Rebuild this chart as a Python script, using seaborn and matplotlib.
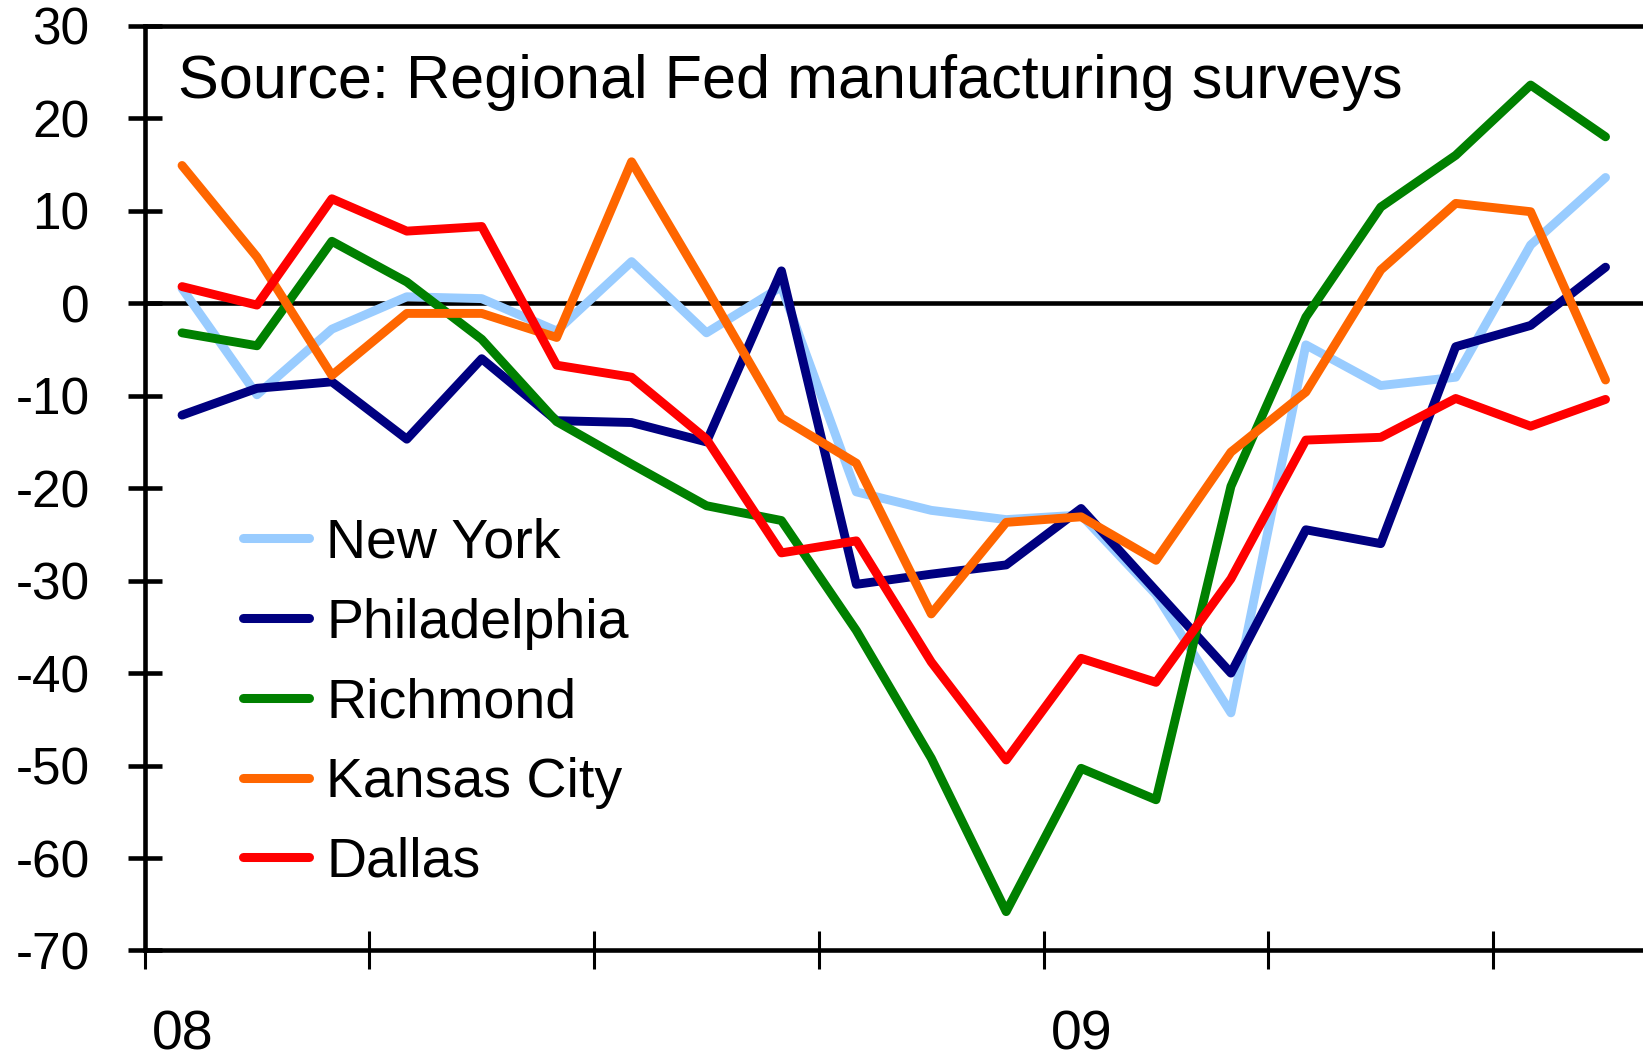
import matplotlib
matplotlib.use("Agg")
import matplotlib.pyplot as plt
import matplotlib.transforms as mtransforms
import seaborn as sns
import numpy as np
import pandas as pd

# monthly index readings, Jan 2008 - Aug 2009
months = pd.period_range("2008-01", "2009-08", freq="M").astype(str).tolist()

new_york = [1.6, -9.9, -2.8, 0.7, 0.5, -3.0, 4.5, -3.2, 1.8, -20.4,
            -22.4, -23.4, -22.9, -31.5, -44.3, -4.5, -8.9, -8.0, 6.3, 13.6]
philadelphia = [-12.1, -9.2, -8.5, -14.7, -6.0, -12.7, -12.9, -15.0, 3.5, -30.4,
                -29.3, -28.3, -22.2, -31.1, -40.0, -24.5, -26.0, -4.7, -2.4, 3.9]
richmond = [-3.2, -4.6, 6.7, 2.3, -3.9, -12.8, -17.4, -21.9, -23.5, -35.4,
            -49.2, -65.8, -50.3, -53.7, -19.8, -1.5, 10.4, 16.0, 23.6, 18.0]
kansas_city = [14.9, 5.0, -7.8, -1.1, -1.1, -3.7, 15.3, 1.6, -12.4, -17.3,
               -33.6, -23.7, -23.1, -27.8, -16.1, -9.6, 3.6, 10.8, 9.9, -8.3]
dallas = [1.8, -0.2, 11.3, 7.8, 8.3, -6.7, -8.0, -14.7, -27.0, -25.7,
          -38.8, -49.4, -38.4, -41.0, -29.8, -14.8, -14.5, -10.3, -13.3, -10.4]

regions = ["New York", "Philadelphia", "Richmond", "Kansas City", "Dallas"]
colors = ["#99CCFF", "#000080", "#008000", "#FF6600", "#FF0000"]
year_labels = ["08", "09"]

series = [new_york, philadelphia, richmond, kansas_city, dallas]
df = pd.concat([
    pd.DataFrame({"pos": np.arange(len(months)) + 0.5, "month": months,
                  "value": vals, "region": name})
    for name, vals in zip(regions, series)
], ignore_index=True)

sns.set_style("white")
plt.rcParams["font.family"] = ["Liberation Sans", "DejaVu Sans"]
plt.rcParams["text.color"] = "black"
plt.rcParams["axes.unicode_minus"] = False

fig = plt.figure(figsize=(16.43, 10.64), dpi=100)
ax = fig.add_axes([0.088, 0.1067, 0.912, 0.869])

sns.lineplot(data=df, x="pos", y="value", hue="region", hue_order=regions,
             palette=dict(zip(regions, colors)), linewidth=6.4, ax=ax,
             sort=False)

ax.axhline(0, color="black", linewidth=3.3, zorder=1)

ax.set_xlim(0, 20)
ax.set_ylim(-70, 30)
ax.set_yticks(np.arange(-70, 31, 10))
ax.set_xticks(np.arange(0, 19, 3))
ax.set_xticklabels([])
ax.set_xlabel("")
ax.set_ylabel("")

for side in ["left", "bottom", "top"]:
    ax.spines[side].set_visible(True)
    ax.spines[side].set_color("black")
    ax.spines[side].set_linewidth(3.3)
ax.spines["right"].set_visible(False)

ax.tick_params(axis="y", direction="inout", length=25, width=3.3,
               labelsize=37, pad=27, colors="black", left=True)
ax.tick_params(axis="x", direction="inout", length=27, width=2.2,
               bottom=True, colors="black")

# year labels under the axis
trans = mtransforms.blended_transform_factory(ax.transData, ax.transAxes)
for xpos, lab in zip([0.1, 12.1], year_labels):
    ax.text(xpos, -0.1205, lab, transform=trans, ha="left", va="bottom",
            fontsize=40, color="black")

ax.text(0.0223, 0.922, "Source: Regional Fed manufacturing surveys",
        transform=ax.transAxes, ha="left", va="baseline", fontsize=44,
        color="black")

leg = ax.legend(loc="upper left", bbox_to_anchor=(0.0655, 0.468),
                frameon=False, fontsize=40, handlelength=1.2,
                handletextpad=0.3, labelspacing=0.5, borderpad=0,
                borderaxespad=0)
for line in leg.get_lines():
    line.set_linewidth(6.5)
for t in leg.get_texts():
    t.set_color("black")

fig.savefig("out.png", dpi=100)
